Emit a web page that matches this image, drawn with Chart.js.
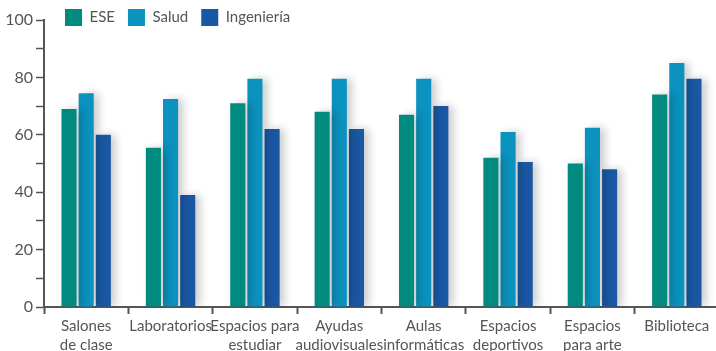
<!DOCTYPE html>
<html>
<head>
<meta charset="utf-8">
<script src="https://cdn.jsdelivr.net/npm/chart.js@4"></script>
<style>
  html, body { margin: 0; padding: 0; background: #fff; overflow: hidden; }
  #wrap { width: 740px; height: 351px; }
</style>
</head>
<body>
<div id="wrap"><canvas id="myChart"></canvas></div>
<script>
const categories = [
    ['Salones', 'de clase'],
    'Laboratorios',
    ['Espacios para', 'estudiar'],
    ['Ayudas', 'audiovisuales'],
    ['Aulas', 'informáticas'],
    ['Espacios', 'deportivos'],
    ['Espacios', 'para arte'],
    'Biblioteca'
];
const ese = [69, 55.5, 71, 68, 67, 52, 50, 74];
const salud = [74.5, 72.5, 79.5, 79.5, 79.5, 61, 62.5, 85];
const ingenieria = [60, 39, 62, 62, 70, 50.5, 48, 79.5];
const seriesNames = ['ESE', 'Salud', 'Ingeniería'];
const seriesColors = ['#008a80', '#0b92be', '#1a58a4'];

const barShadow = {
    id: 'barShadow',
    beforeDatasetsDraw(chart) {
        const ctx = chart.ctx;
        ctx.save();
        ctx.shadowColor = 'rgba(0,0,0,0.2)';
        ctx.shadowBlur = 8;
        ctx.shadowOffsetX = 5;
        ctx.shadowOffsetY = 0;
    },
    afterDatasetsDraw(chart) {
        chart.ctx.restore();
    }
};

// legend sits over the top of the plot and takes no room in the layout
const legendFloat = {
    id: 'legendFloat',
    beforeLayout(chart) {
        const lg = chart.legend;
        if (lg && !lg._floatPatched) {
            const fit = lg.fit.bind(lg);
            lg.fit = function () {
                fit();
                this._realHeight = this.height;
                this.height = 0;
            };
            lg._floatPatched = true;
        }
    },
    afterLayout(chart) {
        const lg = chart.legend;
        if (lg) {
            lg.top = -4;
            lg.height = lg._realHeight || 40;
            lg.bottom = lg.top + lg.height;
            lg.left = chart.chartArea.left + 8;
        }
    }
};

const ctx = document.getElementById('myChart').getContext('2d');
new Chart(ctx, {
    type: 'bar',
    data: {
        labels: categories,
        datasets: [ese, salud, ingenieria].map((d, i) => ({
            label: seriesNames[i],
            data: d,
            backgroundColor: seriesColors[i],
            barPercentage: 0.88,
            categoryPercentage: 0.61
        }))
    },
    options: {
        responsive: true,
        maintainAspectRatio: false,
        animation: false,
        layout: { padding: { top: 20, right: 21, bottom: 0, left: 0 } },
        plugins: {
            tooltip: { enabled: false },
            legend: {
                position: 'top',
                align: 'start',
                labels: {
                    boxWidth: 17,
                    boxHeight: 17,
                    padding: 13,
                    color: '#555',
                    font: { family: 'Lato', size: 15 }
                }
            }
        },
        scales: {
            x: {
                afterFit: s => { s.height = 44; },
                grid: {
                    display: true,
                    drawOnChartArea: false,
                    drawTicks: true,
                    tickLength: 7,
                    tickColor: '#555',
                    tickWidth: 2
                },
                border: { color: '#555', width: 2 },
                ticks: {
                    color: '#555',
                    font: { family: 'Lato', size: 15, lineHeight: 1.3 },
                    maxRotation: 0,
                    autoSkip: false,
                    padding: 2
                }
            },
            y: {
                min: 0,
                max: 100,
                afterFit: s => { s.width = 44; },
                grid: {
                    drawOnChartArea: false,
                    drawTicks: true,
                    tickLength: 8,
                    tickColor: '#555',
                    tickWidth: 1.5
                },
                border: { color: '#555', width: 2 },
                ticks: {
                    stepSize: 10,
                    color: '#555',
                    padding: 3,
                    font: { family: 'Lato', size: 16 },
                    callback: v => (v % 20 === 0 ? v : '')
                }
            }
        }
    },
    plugins: [barShadow, legendFloat]
});
</script>
</body>
</html>
